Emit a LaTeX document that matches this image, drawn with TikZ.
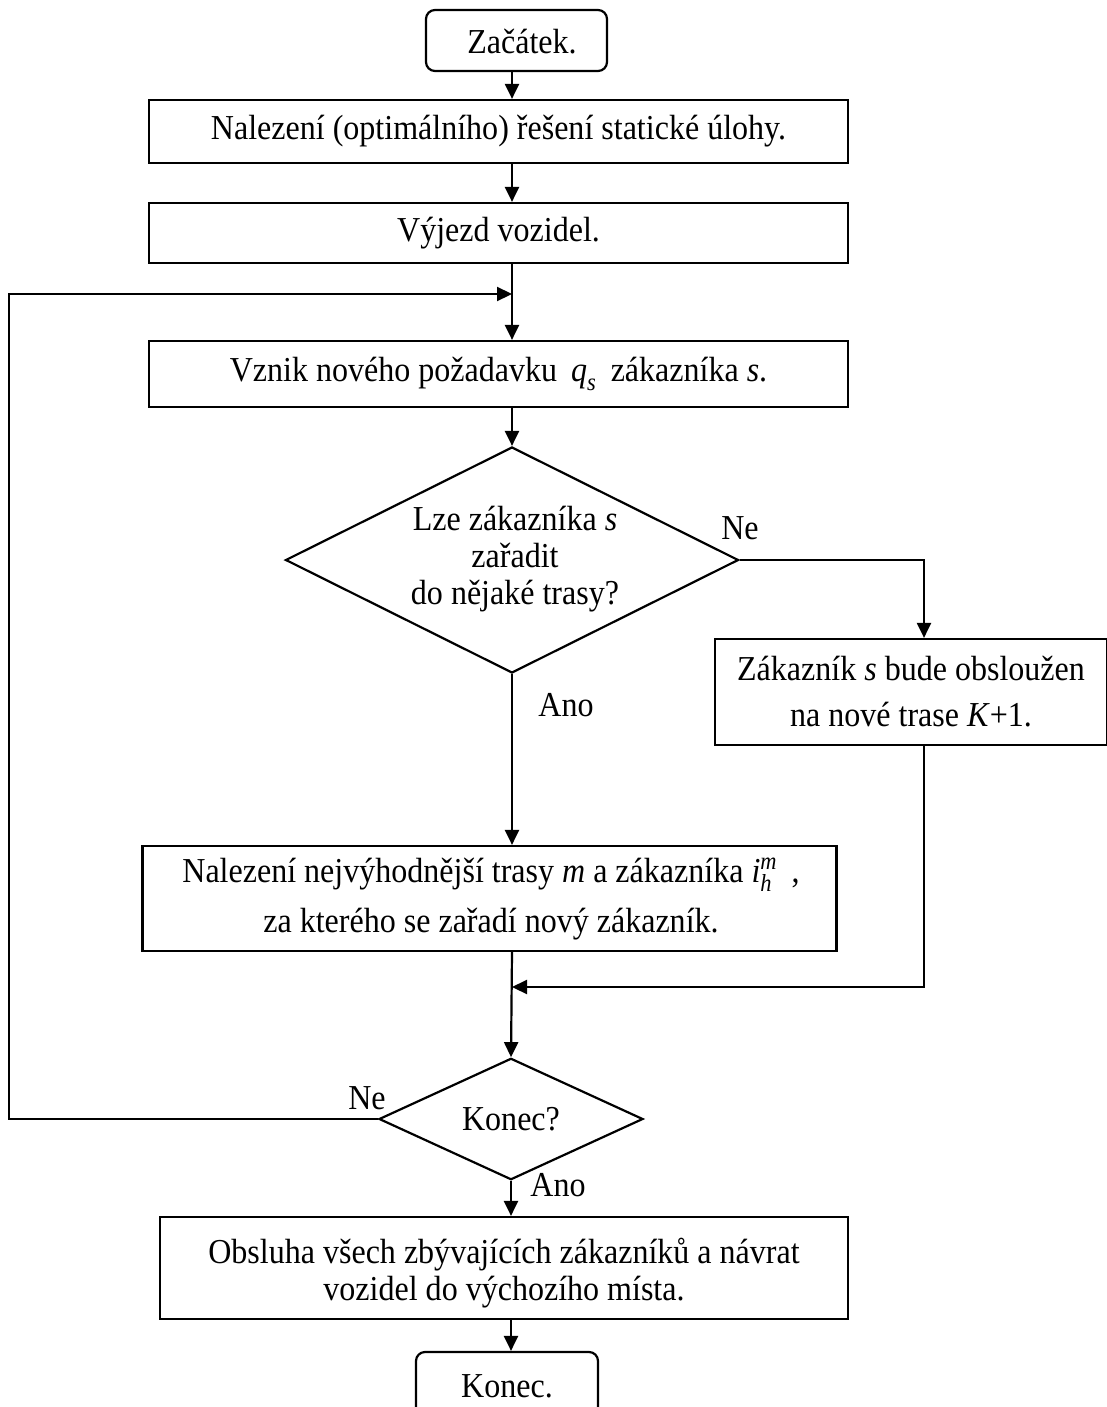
\documentclass[tikz,border=0pt]{standalone}
\usepackage{amsmath}
\usepackage{fontspec}
\setmainfont[FakeStretch=0.915]{Liberation Serif}
\usetikzlibrary{arrows.meta,shapes.geometric}
\begin{document}
\begin{tikzpicture}[x=0.5pt,y=-0.5pt,
  line width=1.1pt,
  font=\fontsize{17.5}{18.5}\selectfont,
  arr/.style={-{Triangle[length=7.5pt,width=7pt]}},
  proc/.style={draw, rectangle, inner sep=0pt, align=center},
  term/.style={draw, rectangle, rounded corners=4.5pt, inner sep=0pt},
  dec/.style={draw, diamond, inner sep=0pt, align=center},
  lbl/.style={inner sep=0pt, align=center}]
\useasboundingbox (0,0) rectangle (1107,1407);

% main column and side columns
\coordinate (spine) at (512,0);
\coordinate (rsp) at (924,0);
\coordinate (lsp) at (9,0);

% terminal and process boxes
\node[term, minimum width=90.5pt, minimum height=30.5pt] (start) at (516.5,40.5) {};
\node[lbl] (starttxt) at (522,42) {Začátek.};
\node[proc, minimum width=349.5pt, minimum height=31.5pt] (box1) at (498.5,131.5)
  {Nalezení (optimálního) řešení statické úlohy.};
\node[proc, minimum width=349.5pt, minimum height=30pt] (box2) at (498.5,233)
  {Výjezd vozidel.};
\node[proc, minimum width=349.5pt, minimum height=33pt] (box3) at (498.5,374)
  {Vznik nového požadavku\hspace{0.4em}$\textit{q}_{\textit{s}}$\hspace{0.4em}zákazníka \textit{s}.};

% first decision
\node[dec, minimum width=226.5pt, minimum height=113pt] (dia1) at (512,560) {};
\node[lbl] (dia1txt) at (515,559) {Lze zákazníka \textit{s}\\ zařadit\\ do nějaké trasy?};

\node[proc, minimum width=196pt, minimum height=53pt,
  font=\fontsize{17.5}{23}\selectfont] (k1) at (911,692)
  {Zákazník \textit{s} bude obsloužen\\ na nové trase \textit{K}+1.};

\node[proc, minimum width=347pt, minimum height=52.5pt] (box4) at (489.5,898.5) {};
\node[lbl, font=\fontsize{17.5}{25}\selectfont] (box4txt) at (491,899)
  {Nalezení nejvýhodnější trasy \textit{m} a zákazníka
   $\textit{i}^{\textit{m}}_{\textit{h}}$\hspace{0.4em},\\
   za kterého se zařadí nový zákazník.};

% second decision
\node[dec, minimum width=132pt, minimum height=49pt] (kon) at (511,1119) {Konec?};

\node[proc, minimum width=344pt, minimum height=51pt] (box5) at (504,1268) {};
\node[lbl] (box5txt) at (504,1273)
  {Obsluha všech zbývajících zákazníků a návrat\\ vozidel do výchozího místa.};
\node[term, minimum width=91pt, minimum height=40pt] (endb) at (507,1392) {};
\node[lbl] (endtxt) at (507,1386) {Konec.};

% branch labels
\node[lbl] (ne1) at (740,528) {Ne};
\node[lbl] (ano1) at (566,705) {Ano};
\node[lbl] (ne2) at (367,1098) {Ne};
\node[lbl] (ano2) at (558,1185) {Ano};

% join points
\coordinate (loopin) at (512,294);
\coordinate (merge) at (512,987);

% connectors
\draw[arr] (spine |- start.south) -- (spine |- box1.north);
\draw[arr] (spine |- box1.south) -- (spine |- box2.north);
\draw[arr] (spine |- box2.south) -- (spine |- box3.north);
\draw[arr] (spine |- box3.south) -- (dia1.north);
\draw[arr] (dia1.south) -- (spine |- box4.north);
\draw[arr] (dia1.east) -| (rsp |- k1.north);
\draw[arr] (rsp |- k1.south) |- (merge);
\draw[arr] (spine |- box4.south) -- (kon.north);
\draw[arr] (kon.south) -- (kon.south |- box5.north);
\draw[arr] (kon.south |- box5.south) -- (kon.south |- endb.north);
\draw[arr] (kon.west) -- (lsp |- kon.west) |- (loopin);
\end{tikzpicture}
\end{document}
